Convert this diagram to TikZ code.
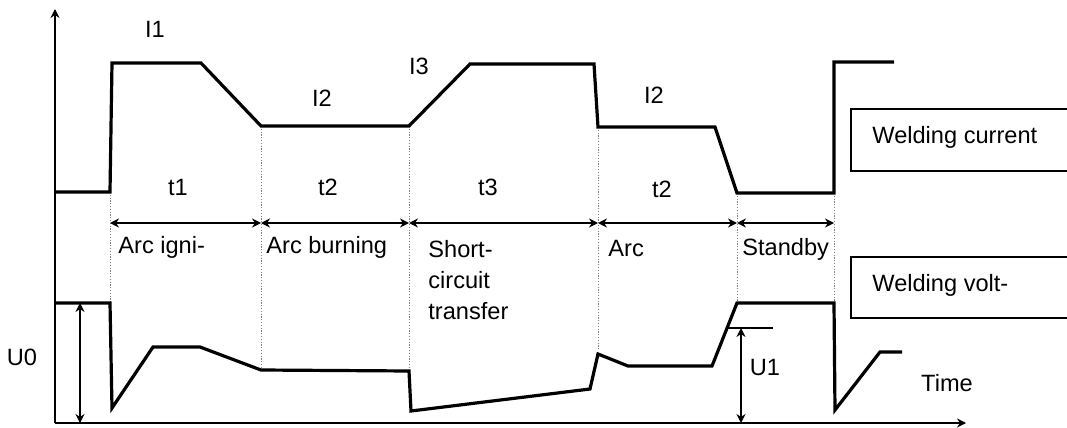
\documentclass[tikz,border=0pt]{standalone}
\usepackage{fontspec}
\setmainfont{Liberation Sans}
\usetikzlibrary{arrows.meta, positioning}
\tikzset{
  wave/.style={line width=1.6pt, line join=miter},
  axis/.style={line width=1pt, -{Stealth[length=4.5pt,width=4.5pt]}},
  span/.style={line width=1pt, {Stealth[length=4.5pt,width=4.5pt]}-{Stealth[length=4.5pt,width=4.5pt]}},
  guide/.style={gray, line width=0.5pt, dash pattern=on 0.6pt off 0.8pt},
  legend/.style={line width=1pt},
  lbl/.style={inner sep=0pt, font=\fontsize{11.8}{15.5}\selectfont}
}

\begin{document}
\begin{tikzpicture}[x=0.5pt, y=-0.5pt]
\useasboundingbox (0,0) rectangle (1067,428);

% axes
\coordinate (o) at (55,423);
\coordinate (ytop) at (55,9);
\coordinate (xend) at (966,423);
\draw[axis] (o) -- (ytop);
\draw[axis] (o) -- (xend);

% phase borders: current level, voltage level, span height
\foreach \n/\x/\yc/\yv in {s0/110/192/303, s1/261/126/370, s2/409/126/371, s3/598/127/350, s4/737/193/303, s5/834/193/303} {
  \coordinate (\n-c) at (\x,\yc);
  \coordinate (\n-v) at (\x,\yv);
  \coordinate (\n-a) at (\x,223);
  \draw[guide] (\n-c) -- (\n-v);
}

% durations
\foreach \a/\b in {s0/s1, s1/s2, s2/s3, s3/s4, s4/s5}
  \draw[span] (\a-a) -- (\b-a);

% welding current
\draw[wave] (55,192) -- (s0-c) -- (112,63) -- (201,63) -- (s1-c) -- (s2-c)
  -- (470,64) -- (594,64) -- (s3-c) -- (715,127) -- (s4-c) -- (s5-c)
  -- (834,62) -- (894,62);

% welding voltage
\draw[wave] (55,303) -- (110,303) -- (112,408) -- (153,347) -- (200,347)
  -- (s1-v) -- (s2-v) -- (411,411) -- (590,389) -- (598,354) -- (628,366)
  -- (712,366) -- (s4-v) -- (s5-v) -- (835,410) -- (880,352) -- (902,352);

% U0 and U1
\coordinate (u0top) at (80,303);
\coordinate (u0bot) at (80,423);
\draw[span] (u0top) -- (u0bot);
\coordinate (u1l) at (728,328);
\coordinate (u1r) at (773,328);
\coordinate (u1top) at (741,328);
\coordinate (u1bot) at (741,423);
\draw[line width=0.7pt] (u1l) -- (u1r);
\draw[span] (u1top) -- (u1bot);

% levels
\node[lbl, anchor=base] (i1) at (155,37) {I1};
\node[lbl, anchor=base] (i2a) at (322,106) {I2};
\node[lbl, anchor=base] (i3) at (419,74) {I3};
\node[lbl, anchor=base] (i2b) at (654,103) {I2};
\node[lbl, anchor=base] (t1) at (178,195) {t1};
\node[lbl, anchor=base] (t2a) at (328,195) {t2};
\node[lbl, anchor=base] (t3) at (488,195) {t3};
\node[lbl, anchor=base] (t2b) at (662,197) {t2};
\node[lbl, anchor=base] (u0) at (22,365) {U0};
\node[lbl, anchor=base] (u1) at (765,375) {U1};
\node[lbl, anchor=base] (time) at (947,391) {Time};

% phases
\node[lbl, anchor=base west] (ign) at (118,253) {Arc igni-};
\node[lbl, anchor=base west] (burn) at (266,253) {Arc burning};
\node[lbl, anchor=north west, align=left] (short) at (428,240) {Short-\\circuit\\transfer};
\node[lbl, anchor=base west] (arc) at (608,256) {Arc};
\node[lbl, anchor=base west] (stby) at (742,255) {Standby};

% legend
\draw[legend] (1075,109) -- (851,109) -- (851,171) -- (1075,171);
\node[lbl, anchor=base west] (cur) at (872,143) {Welding current};
\draw[legend] (1075,257) -- (851,257) -- (851,318) -- (1075,318);
\node[lbl, anchor=base west] (volt) at (872,291) {Welding volt-};
\end{tikzpicture}
\end{document}
